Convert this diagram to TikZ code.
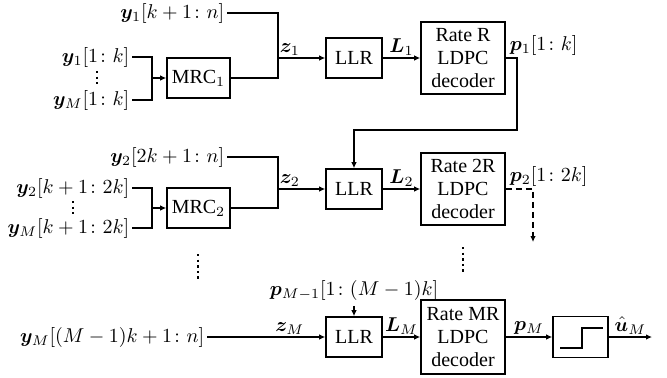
\documentclass[tikz,border=0pt]{standalone}
\usepackage{amsmath,bm}
\usepackage{fontspec}
\setmainfont{Liberation Serif}
\usetikzlibrary{arrows.meta}

\begin{document}
\begin{tikzpicture}[x=0.5pt,y=-0.5pt,line width=0.8pt,
  font=\fontsize{10}{11.3}\selectfont,
  >={Latex[length=3pt,width=2.8pt]},
  blk/.style={draw,inner sep=0pt,align=center},
  mrcbox/.style={blk,minimum width=31.5pt,minimum height=20pt},
  llrbox/.style={blk,minimum width=28pt,minimum height=20pt},
  decbox/.style={blk,minimum width=42pt,minimum height=36pt},
  lab/.style={inner sep=1pt},
  dash line/.style={dash pattern=on 3pt off 2pt},
  dot line/.style={line width=1.2pt,dash pattern=on 1.2pt off 1.6pt}]
\useasboundingbox (0,0) rectangle (667,377);

% first stage
\node[mrcbox] (mrc1) at (198.5,78) {MRC$_1$};
\node[llrbox] (llr1) at (354,58) {LLR};
\node[decbox] (dec1) at (463,58) {Rate R\\LDPC\\decoder};
\node[lab,anchor=east] (in1a) at (227,13) {$\bm{y}_1[k+1\colon n]$};
\node[lab,anchor=east] (in1b) at (132,57) {$\bm{y}_1[1\colon k]$};
\node[lab,anchor=east] (in1c) at (132,100) {$\bm{y}_M[1\colon k]$};
\draw[dot line] (97,71) -- (97,84);
\coordinate (j1) at (152,78);
\coordinate (s1) at (278,58);
\draw (in1b.east) -| (j1);
\draw (in1c.east) -| (j1);
\draw[->] (j1) -- (mrc1);
\draw (in1a.east) -| (s1);
\draw (mrc1.east) -| (s1);
\draw[->] (s1) -- node[lab,above,pos=0.25] {$\bm{z}_1$} (llr1);
\draw[->] (llr1) -- node[lab,above] {$\bm{L}_1$} (dec1);
\node[lab,anchor=base west] (p1) at (507,50) {$\bm{p}_1[1\colon k]$};

% second stage
\node[mrcbox] (mrc2) at (198.5,208) {MRC$_2$};
\node[llrbox] (llr2) at (354,189) {LLR};
\node[decbox] (dec2) at (463,189) {Rate 2R\\LDPC\\decoder};
\node[lab,anchor=east] (in2a) at (227,157) {$\bm{y}_2[2k+1\colon n]$};
\node[lab,anchor=east] (in2b) at (132,188) {$\bm{y}_2[k+1\colon 2k]$};
\node[lab,anchor=east] (in2c) at (132,228) {$\bm{y}_M[k+1\colon 2k]$};
\draw[dot line] (73,201) -- (73,214);
\coordinate (j2) at (152,208);
\coordinate (s2) at (278,189);
\draw (in2b.east) -| (j2);
\draw (in2c.east) -| (j2);
\draw[->] (j2) -- (mrc2);
\draw (in2a.east) -| (s2);
\draw (mrc2.east) -| (s2);
\draw[->] (s2) -- node[lab,above,pos=0.25] {$\bm{z}_2$} (llr2);
\draw[->] (llr2) -- node[lab,above] {$\bm{L}_2$} (dec2);
\node[lab,anchor=base west] (p2) at (507,181) {$\bm{p}_2[1\colon 2k]$};
\coordinate (fb1) at (517,130);
\draw[->] (dec1.east) -| (fb1) -| (llr2.north);
\coordinate (fb2) at (533,242);
\draw[->,dash line] (dec2.east) -| (fb2);

% dots between stages
\draw[dot line] (198,254) -- (198,281);
\draw[dot line] (463,247) -- (463,273);

% last stage
\node[llrbox] (llr3) at (354,337) {LLR};
\node[decbox,minimum height=37pt] (dec3) at (463,337) {Rate MR\\LDPC\\decoder};
\node[blk,minimum width=27.5pt,minimum height=20.5pt] (hard) at (580.5,337) {};
\node[lab,anchor=east] (in3) at (207,337) {$\bm{y}_M[(M-1)k+1\colon n]$};
\node[lab] (pm) at (354,290) {$\bm{p}_{M-1}[1\colon (M-1)k]$};
\draw[->] (in3) -- node[lab,above,pos=0.7] {$\bm{z}_M$} (llr3);
\draw[->,dash line,shorten <=1.5pt] (pm.south) -- (llr3.north);
\draw[->] (llr3) -- node[lab,above] {$\bm{L}_M$} (dec3);
\draw[->] (dec3) -- node[lab,above] {$\bm{p}_M$} (hard);
\draw (560,348) -- (582,348) -- (582,328) -- (603,328);
\coordinate (out) at (652,337);
\draw[->] (hard) -- node[lab,above] {$\hat{\bm{u}}_M$} (out);
\end{tikzpicture}
\end{document}
